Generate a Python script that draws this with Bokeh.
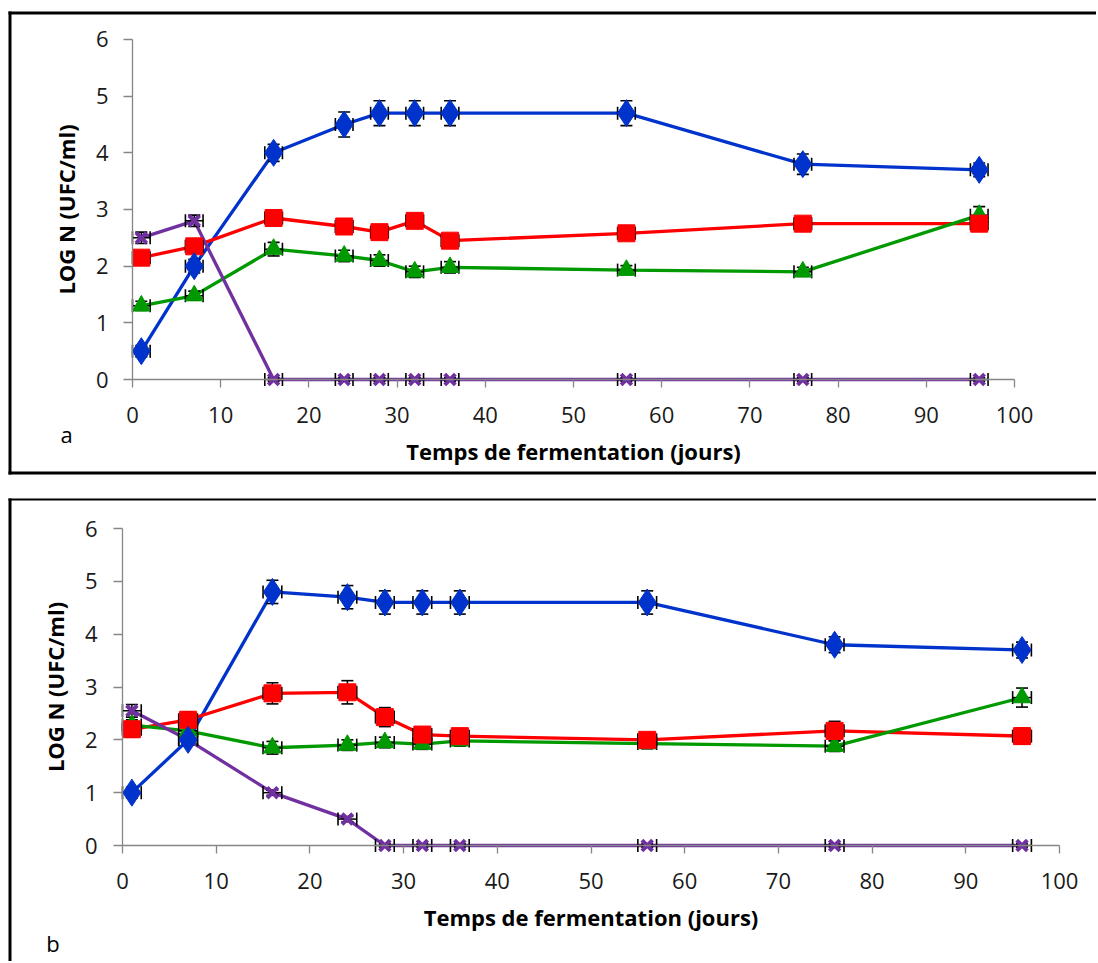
import math
from bokeh.plotting import figure
from bokeh.layouts import column
from bokeh.models import Range1d, FixedTicker, Label, LinearAxis, BoxAnnotation
from bokeh.embed import file_html
from bokeh.resources import INLINE

days = [1, 7, 16, 24, 28, 32, 36, 56, 76, 96]

# Panel a
a_blue = [0.5, 2.0, 4.0, 4.5, 4.7, 4.7, 4.7, 4.7, 3.8, 3.7]
a_red = [2.15, 2.35, 2.85, 2.7, 2.6, 2.8, 2.45, 2.58, 2.75, 2.75]
a_green = [1.3, 1.48, 2.3, 2.18, 2.1, 1.9, 1.98, 1.93, 1.9, 2.9]
a_purple = [2.5, 2.8, 0, 0, 0, 0, 0, 0, 0, 0]
a_blue_err = [0.1, 0.12, 0.15, 0.22, 0.22, 0.22, 0.22, 0.22, 0.18, 0.12]
a_red_err = [0.1, 0.1, 0.12, 0.12, 0.1, 0.12, 0.1, 0.1, 0.1, 0.1]
a_green_err = [0.08, 0.08, 0.12, 0.1, 0.1, 0.1, 0.1, 0.08, 0.08, 0.15]
a_purple_err = [0.1, 0.1, 0.03, 0.03, 0.03, 0.03, 0.03, 0.03, 0.03, 0.03]

# Panel b
b_blue = [1.0, 2.0, 4.8, 4.7, 4.6, 4.6, 4.6, 4.6, 3.8, 3.7]
b_red = [2.2, 2.38, 2.88, 2.9, 2.43, 2.1, 2.07, 2.0, 2.17, 2.07]
b_green = [2.28, 2.17, 1.85, 1.9, 1.95, 1.92, 1.98, 1.93, 1.88, 2.8]
b_purple = [2.55, 2.0, 1.0, 0.5, 0, 0, 0, 0, 0, 0]
b_blue_err = [0.1, 0.1, 0.22, 0.22, 0.22, 0.22, 0.22, 0.22, 0.15, 0.15]
b_red_err = [0.15, 0.15, 0.2, 0.22, 0.18, 0.1, 0.1, 0.1, 0.18, 0.15]
b_green_err = [0.1, 0.1, 0.12, 0.1, 0.1, 0.1, 0.1, 0.1, 0.1, 0.18]
b_purple_err = [0.12, 0.1, 0.05, 0.05, 0.03, 0.03, 0.03, 0.03, 0.03, 0.03]

x_err = 1.0

x_ticks = [0, 10, 20, 30, 40, 50, 60, 70, 80, 90, 100]
y_ticks = [0, 1, 2, 3, 4, 5, 6]
x_title = "Temps de fermentation (jours)"
y_title = "LOG N (UFC/ml)"

BLUE = "#0033CC"
RED = "#FF0000"
GREEN = "#009900"
PURPLE = "#7030A0"
FONT = "Open Sans"

W = 1096


def make_panel(series, letter, top_px, height, x0px, sx, y0px, sy, letter_px, borders, ystand):
    fx = lambda px: (px - x0px) / sx
    fy = lambda py: (y0px - py) / sy
    p = figure(width=W, height=height, output_backend="svg", toolbar_location=None,
               x_range=Range1d(fx(0), fx(W)), y_range=Range1d(fy(top_px + height), fy(top_px)),
               x_axis_location=None, y_axis_location=None,
               min_border=0, min_border_left=0, min_border_right=0,
               min_border_top=0, min_border_bottom=0)
    p.outline_line_color = None
    p.grid.visible = False
    p.background_fill_color = "white"
    p.border_fill_color = "white"

    # panel border strips (page pixels -> data)
    for (l, r, t, b) in borders:
        p.add_layout(BoxAnnotation(left=fx(l), right=fx(r), top=fy(t), bottom=fy(b),
                                   fill_color="black", fill_alpha=1.0, line_color=None,
                                   line_alpha=0, level="underlay"))

    xaxis = LinearAxis(fixed_location=0, bounds=(0, 100))
    yaxis = LinearAxis(fixed_location=0, bounds=(0, 6))
    p.add_layout(xaxis, "below")
    p.add_layout(yaxis, "left")
    for ax, ticks in ((xaxis, x_ticks), (yaxis, y_ticks)):
        ax.ticker = FixedTicker(ticks=ticks)
        ax.axis_line_color = "#868686"
        ax.axis_line_width = 1.3
        ax.major_tick_line_color = "#868686"
        ax.major_tick_line_width = 1.3
        ax.major_tick_in = 0
        ax.minor_tick_in = 0
        ax.minor_tick_out = 0
        ax.major_label_text_font = FONT
        ax.major_label_text_font_size = "22px"
        ax.major_label_text_color = "#1a1a1a"
        ax.axis_label_text_font = FONT
        ax.axis_label_text_font_style = "bold"
        ax.axis_label_text_color = "black"
        ax.axis_label_text_font_size = "22px"
    xaxis.major_tick_out = 8
    yaxis.major_tick_out = 9
    xaxis.major_label_standoff = 19
    yaxis.major_label_standoff = ystand
    xaxis.axis_label = x_title
    yaxis.axis_label = y_title
    xaxis.axis_label_standoff = 10
    yaxis.axis_label_standoff = 12

    # lines
    for ys, errs, color, marker, size in series:
        p.line(days, ys, line_color=color, line_width=3.3)
    # error bars
    for ys, errs, color, marker, size in series:
        lo = [y - e for y, e in zip(ys, errs)]
        hi = [y + e for y, e in zip(ys, errs)]
        xl = [d - x_err for d in days]
        xr_ = [d + x_err for d in days]
        p.segment(x0=days, y0=lo, x1=days, y1=hi, line_color="black", line_width=1.5)
        p.segment(x0=xl, y0=ys, x1=xr_, y1=ys, line_color="black", line_width=1.5)
        p.scatter(days, lo, marker="dash", size=12, line_color="black", line_width=1.6)
        p.scatter(days, hi, marker="dash", size=12, line_color="black", line_width=1.6)
        p.scatter(xl, ys, marker="dash", angle=math.pi / 2, size=13, line_color="black", line_width=1.6)
        p.scatter(xr_, ys, marker="dash", angle=math.pi / 2, size=13, line_color="black", line_width=1.6)
    # markers
    for ys, errs, color, marker, size in reversed(series):
        if marker == "x":
            p.scatter(days, ys, marker="x", size=size, line_color=color, line_width=4)
        else:
            p.scatter(days, ys, marker=marker, size=size, fill_color=color, line_color=color)

    p.add_layout(Label(x=fx(letter_px[0]), y=fy(letter_px[1]), text=letter, text_font=FONT,
                       text_font_size="22px", text_color="black",
                       text_align="center", text_baseline="alphabetic"))
    return p


series_a = [
    (a_blue, a_blue_err, BLUE, "diamond", 27),
    (a_red, a_red_err, RED, "square", 17),
    (a_green, a_green_err, GREEN, "triangle", 18),
    (a_purple, a_purple_err, PURPLE, "x", 15),
]
series_b = [
    (b_blue, b_blue_err, BLUE, "diamond", 27),
    (b_red, b_red_err, RED, "square", 17),
    (b_green, b_green_err, GREEN, "triangle", 18),
    (b_purple, b_purple_err, PURPLE, "x", 15),
]

FAR = 3000
# panel a: page y 0..486 ; x=0 at px 132 (8.82 px/unit), y=0 at px 379 (56.667 px/unit)
pa = make_panel(series_a, "a", 0, 486, 132, 8.82, 379, 56.667, (66, 433),
                [(8, FAR, 11, 14), (8, 11, 11, 474), (8, FAR, 471, 474)], 15)
# panel b: page y 486..961 ; x=0 at px 122 (9.37 px/unit), y=0 at px 845 (52.833 px/unit)
pb = make_panel(series_b, "b", 486, 475, 122, 9.37, 845, 52.833, (52.5, 942),
                [(8, FAR, 498, 500), (8, 11, 498, FAR)], 16)

layout = column(pa, pb, spacing=0)
open("out.html", "w").write(file_html(layout, INLINE))
